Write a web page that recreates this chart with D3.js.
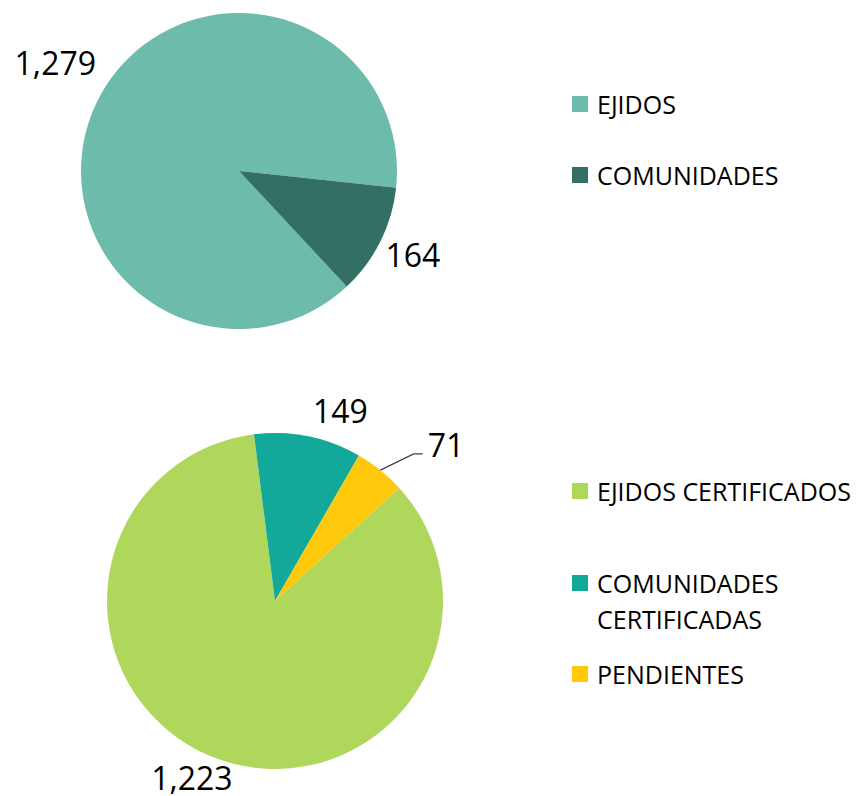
<!DOCTYPE html>
<html>
<head>
<meta charset="utf-8">
<script src="https://cdn.jsdelivr.net/npm/d3@7"></script>
<style>
  body { margin: 0; background: #fff; }
  text { font-family: "Open Sans", "Liberation Sans", sans-serif; fill: #000; }
</style>
</head>
<body>
<svg width="856" height="796"></svg>
<script>
// ---------------- data ----------------
const topCategories = ["EJIDOS", "COMUNIDADES"];
const topValues = [1279, 164];
const topColors = ["#6dbbab", "#336f62"];

const bottomCategories = ["EJIDOS CERTIFICADOS", "COMUNIDADES CERTIFICADAS", "PENDIENTES"];
const bottomValues = [1223, 149, 71];
const bottomColors = ["#afd75b", "#13a99a", "#fec90a"];

const svg = d3.select("svg");
const fmt = d3.format(",");
const rad = Math.PI / 180;

function drawPie(cfg) {
  const data = cfg.values.map((v, i) => ({ name: cfg.categories[i], value: v }));
  const pie = d3.pie().value(d => d.value).sort(null)
    .startAngle(cfg.start * rad).endAngle((cfg.start + 360) * rad);
  const arcs = pie(data);
  const arc = d3.arc().innerRadius(0).outerRadius(cfg.r);

  const g = svg.append("g").attr("transform", "translate(" + cfg.cx + "," + cfg.cy + ")");
  g.selectAll("path")
    .data(arcs)
    .enter()
    .append("path")
    .attr("d", arc)
    .attr("fill", (d, i) => cfg.colors[i]);

  // data labels, placed outside along mid angle
  arcs.forEach((d, i) => {
    const lp = cfg.labels[i];
    const a = (d.startAngle + d.endAngle) / 2 + lp.da * rad;
    const rr = cfg.r * lp.k;
    const x = Math.sin(a) * rr, y = -Math.cos(a) * rr;
    if (lp.leader) {
      const am = (d.startAngle + d.endAngle) / 2;
      const x0 = Math.sin(am) * cfg.r, y0 = -Math.cos(am) * cfg.r;
      g.append("polyline")
        .attr("points", [[x0, y0], [x - 14, y + 9], [x - 5, y + 9]].map(p => p.join(",")).join(" "))
        .attr("fill", "none")
        .attr("stroke", "#404040")
        .attr("stroke-width", 1.3);
    }
    g.append("text")
      .attr("x", x)
      .attr("y", y)
      .attr("text-anchor", lp.anchor || "middle")
      .attr("dominant-baseline", "central")
      .attr("font-size", 32)
      .text(fmt(d.data.value));
  });

  // legend
  const lg = svg.append("g").attr("transform", "translate(" + cfg.lx + ",0)");
  cfg.categories.forEach((c, i) => {
    const y = cfg.ly[i];
    lg.append("rect")
      .attr("x", 0).attr("y", y - 8)
      .attr("width", 16).attr("height", 16)
      .attr("fill", cfg.colors[i]);
    const lines = cfg.wrap[i] || [c];
    lines.forEach((t, j) => {
      lg.append("text")
        .attr("x", 25)
        .attr("y", y + j * 36)
        .attr("dominant-baseline", "central")
        .attr("font-size", 25)
        .text(t);
    });
  });
}

drawPie({
  categories: topCategories, values: topValues, colors: topColors,
  cx: 239, cy: 171, r: 158, start: 137,
  labels: [{ k: 1.35, da: 4 }, { k: 1.22, da: -1 }],
  lx: 572, ly: [104, 175], wrap: []
});

drawPie({
  categories: bottomCategories, values: bottomValues, colors: bottomColors,
  cx: 275, cy: 601, r: 168, start: 47.7,
  labels: [{ k: 1.16, da: 5 }, { k: 1.2, da: 7.5 }, { k: 1.30, da: 5.5, anchor: "start", leader: true }],
  lx: 572, ly: [491, 583, 674],
  wrap: [null, ["COMUNIDADES", "CERTIFICADAS"], null]
});
</script>
</body>
</html>
